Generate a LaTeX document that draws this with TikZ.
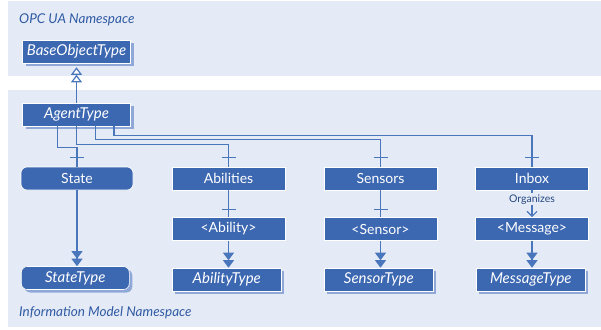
\documentclass[tikz,border=0pt]{standalone}
\usepackage{fontspec}
\setmainfont{Lato}
\usetikzlibrary{arrows.meta,shadows}
\definecolor{panel}{HTML}{E5EBF6}
\definecolor{boxblue}{HTML}{3C67B1}
\definecolor{shadowblue}{HTML}{8FA8D8}
\definecolor{linkblue}{HTML}{4A76BC}
\definecolor{nstext}{HTML}{2F5AA3}
\tikzset{
  box/.style={fill=boxblue, draw=white, line width=0.6pt, text=white,
    minimum width=113pt, minimum height=23pt, inner sep=0pt,
    font=\fontsize{14}{16}\selectfont},
  typebox/.style={box, minimum width=108pt,
    font=\fontsize{15}{17}\selectfont\itshape,
    copy shadow={shadow xshift=3pt, shadow yshift=-3pt, fill=shadowblue, draw=none}},
  conn/.style={draw=linkblue, line width=1.2pt},
  dbl/.style={conn, -{Triangle[width=11pt,length=7.5pt] Triangle[width=11pt,length=7.5pt]}},
  inherit/.style={conn, -{Triangle[open,fill=white,width=11pt,length=7.5pt] Triangle[open,fill=white,width=11pt,length=7.5pt]}},
  nslabel/.style={anchor=west, text=nstext, inner sep=0pt, font=\fontsize{13.5}{16}\selectfont\itshape},
}
\begin{document}
\begin{tikzpicture}[x=1pt,y=-1pt]
\useasboundingbox (0,0) rectangle (601,329);
% namespace panels
\fill[panel] (8,1) rectangle (601,76);
\fill[panel] (8,90) rectangle (601,327);
\node[nslabel] (nsopc) at (19,20) {OPC UA Namespace};
\node[nslabel] (nsinfo) at (19,313) {Information Model Namespace};

% object types
\node[typebox] (base) at (76.5,51.5) {BaseObjectType};
\node[typebox] (agent) at (76.5,114.5) {AgentType};

% components of AgentType
\node[box, minimum width=112pt, rounded corners=6pt] (state) at (77,178.5) {State};
\node[box] (abil) at (228.5,178.5) {Abilities};
\node[box] (sens) at (380.5,178.5) {Sensors};
\node[box] (inbox) at (532,178.5) {Inbox};

% placeholder children
\node[box] (ability) at (228.5,229) {<Ability>};
\node[box] (sensor) at (380.5,229) {<Sensor>};
\node[box] (message) at (532,229) {<Message>};

% type definitions
\node[typebox, rounded corners=6pt, anchor=west] (statetype) at (21,278) {StateType};
\node[typebox, minimum width=109pt, anchor=west] (abiltype) at (172,279.5) {AbilityType};
\node[typebox, minimum width=109pt, anchor=west] (sensortype) at (324,279.5) {SensorType};
\node[typebox, minimum width=109pt, anchor=west] (msgtype) at (476,279.5) {MessageType};

% subtype relation
\draw[inherit] (agent.north) -- ([yshift=-4pt]base.south);

% HasComponent references from AgentType
\draw[conn] ([xshift=-19pt]agent.south) -- ++(0,21) -| (state.north);
\draw[conn] (agent.south) -- ++(0,18) -| (abil.north);
\draw[conn] ([xshift=19pt]agent.south) -- ++(0,13) -| (sens.north);
\draw[conn] ([xshift=37.5pt]agent.south) -- ++(0,9) -| (inbox.north);
\foreach \n in {state,abil,sens,inbox}
  \draw[conn] ([xshift=-7pt,yshift=9pt]\n.north) -- ++(14,0);

\draw[conn] (abil.south) -- (ability.north);
\draw[conn] (sens.south) -- (sensor.north);
\foreach \n in {ability,sensor}
  \draw[conn] ([xshift=-7pt,yshift=8pt]\n.north) -- ++(14,0);

% Organizes reference
\draw[conn, -{Straight Barb[length=5pt,width=10pt]}] (inbox.south) --
  node[pos=0.33, fill=panel, inner sep=1pt, text=nstext!80!black,
       font=\fontsize{10.5}{12}\selectfont] (orglabel) {Organizes} (message.north);

% HasTypeDefinition references
\draw[dbl] (state.south) -- (state.south |- statetype.north);
\draw[dbl] (ability.south) -- (ability.south |- abiltype.north);
\draw[dbl] (sensor.south) -- (sensor.south |- sensortype.north);
\draw[dbl] (message.south) -- (message.south |- msgtype.north);
\end{tikzpicture}
\end{document}
